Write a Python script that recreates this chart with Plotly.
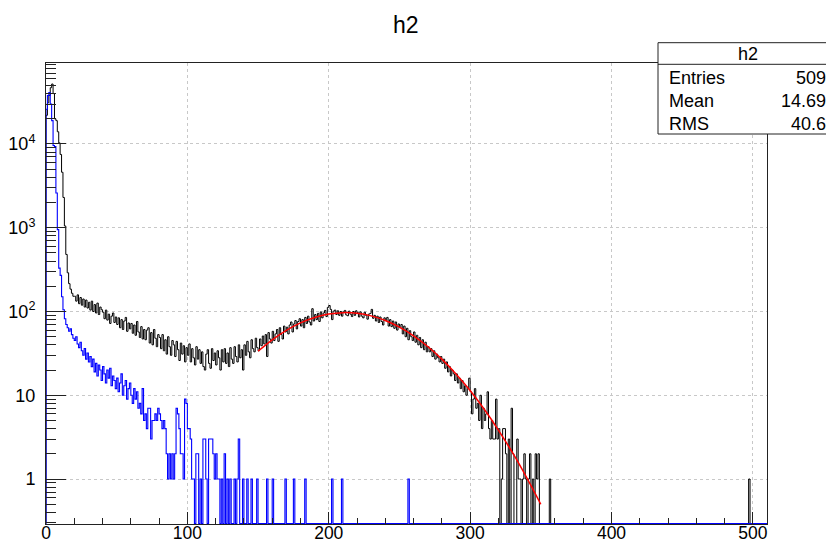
import numpy as np
import plotly.graph_objects as go

# Histogram h2: unit-width bins on [0, 510)
N_BINS = 510

# Black histogram, bins 0..359 (all later bins empty except a few listed separately)
black_dense = [
    22000, 31000, 38000, 47000, 52000, 40000, 20000, 19000, 14000, 10300,
    7500, 4600, 2300, 1050, 480, 290, 215, 185, 165, 152,
    152, 133, 158, 124, 147, 119, 141, 113, 137, 110,
    129, 104, 133, 100, 121, 96, 126, 92, 113, 105,
    98, 82, 104, 79, 93, 72, 88, 96, 74, 86,
    70, 84, 64, 80, 61, 77, 85, 58, 73, 62,
    72, 55, 69, 52, 76, 57, 49, 66, 47, 61,
    46, 60, 64, 42, 56, 40, 61, 48, 38, 53,
    49, 36, 53, 34, 46, 31, 50, 38, 30, 45,
    40, 29, 44, 35, 26, 42, 31, 39, 25, 37,
    30, 41, 25, 36, 28, 23, 38, 27, 35, 24,
    33, 22, 20, 31, 35, 24, 21, 36, 26, 32,
    23, 34, 28, 20, 35, 25, 36, 24, 32, 22,
    37, 27, 24, 38, 29, 25, 40, 28, 35, 20,
    40, 30, 44, 33, 28, 46, 36, 33, 48, 37,
    34, 47, 39, 51, 41, 53, 29, 56, 47, 42,
    58, 45, 54, 61, 44, 64, 53, 47, 67, 57,
    65, 54, 69, 75, 57, 71, 78, 62, 76, 82,
    67, 80, 64, 85, 72, 88, 75, 69, 108, 77,
    92, 80, 95, 76, 99, 84, 96, 103, 87, 112,
    118, 106, 80, 101, 104, 92, 102, 90, 100, 88,
    99, 103, 91, 89, 101, 93, 87, 100, 90, 102,
    97, 86, 99, 88, 84, 98, 90, 81, 93, 95,
    106, 83, 90, 77, 88, 74, 86, 76, 69, 84,
    78, 85, 67, 80, 66, 77, 63, 75, 60, 71,
    64, 70, 54, 67, 50, 63, 46, 59, 50, 45,
    57, 43, 52, 40, 49, 37, 46, 35, 43, 33,
    38, 33, 36, 29, 34, 27, 31, 28, 25, 29,
    24, 27, 21, 25, 19, 22, 17, 20, 18, 15,
    18, 14, 16, 12, 15, 11, 13, 10, 12, 16,
    11, 6, 9, 12, 7, 8, 5, 10, 4, 7,
    5, 6, 11, 4, 3, 5, 3, 3, 9, 3,
    4, 0, 1, 4, 4, 2, 0, 3, 0, 7,
    2, 0, 0, 3, 1, 1, 0, 1, 2, 1,
    0, 1, 2, 0, 1, 0, 2, 1, 2, 0,
    0, 0, 0, 0, 0, 0, 1, 0, 0, 0,
]
black_sparse = {497: 1}

# Blue histogram, bins 0..189, plus isolated single counts further out
blue_dense = [
    26000, 38000, 41000, 30000, 19000, 9600, 9300, 2600, 950, 330,
    270, 150, 105, 82, 70, 64, 58, 62, 53, 48,
    45, 50, 41, 37, 43, 34, 30, 36, 27, 32,
    25, 29, 22, 27, 19, 24, 17, 23, 20, 15,
    22, 18, 14, 20, 16, 21, 13, 17, 15, 12,
    16, 11, 14, 18, 10, 13, 15, 9, 12, 14,
    10, 8, 12, 9, 11, 7, 8, 6, 12, 5,
    6, 4, 7, 7, 3, 5, 5, 6, 5, 7,
    6, 5, 4, 5, 4, 2, 1, 2, 1, 2,
    1, 2, 7, 6, 4, 2, 2, 1, 9, 8,
    4, 4, 3, 1, 1, 0, 2, 2, 0, 1,
    0, 3, 3, 1, 0, 3, 3, 3, 2, 1,
    2, 1, 1, 0, 1, 0, 2, 0, 1, 0,
    1, 0, 0, 1, 0, 1, 3, 0, 0, 1,
    0, 0, 1, 0, 0, 1, 0, 0, 0, 1,
    0, 0, 0, 0, 0, 0, 1, 0, 0, 0,
    1, 0, 0, 0, 0, 0, 0, 0, 0, 1,
    0, 0, 0, 0, 0, 1, 0, 0, 0, 0,
    0, 0, 0, 1, 0, 0, 0, 0, 0, 0,
]
blue_sparse = {202: 1, 209: 1, 256: 1}

# Gaussian fit curve over the bump, sampled every 10 units
fit_x = [150, 160, 170, 180, 190, 200, 210, 220, 230, 240, 250,
         260, 270, 280, 290, 300, 310, 320, 330, 340, 350]
fit_y = [33.5, 45.9, 59.5, 73.1, 84.9, 93.2, 96.9, 95.3, 88.7, 78.1, 65.0,
         51.2, 38.2, 27.0, 18.0, 11.4, 6.8, 3.84, 2.06, 1.04, 0.50]

# Statistics box
stats_title = "h2"
stats_labels = ["Entries", "Mean", "RMS"]
stats_values = ["509", "14.69", "40.6"]

x_major = [0, 100, 200, 300, 400, 500]
y_major = [1, 10, 100, 1000, 10000]
y_major_text = ["1", "10", "10<sup>2</sup>", "10<sup>3</sup>", "10<sup>4</sup>"]

assert len(black_dense) == 360

Y_LOG_MIN, Y_LOG_MAX = -0.537, 4.967
FLOOR = 10 ** (Y_LOG_MIN + 0.004)  # empty bins sit on the bottom of the frame

W, H = 826, 544
ML, MR, MT, MB = 46, 59, 63, 20
PW, PH = W - ML - MR, H - MT - MB
FONT = "Liberation Sans, Arial, Helvetica, sans-serif"


def px(x):
    return (x - ML) / PW


def py(y):
    return (H - MB - y) / PH


def full_counts(dense, sparse):
    c = np.zeros(N_BINS)
    c[:len(dense)] = dense
    for k, v in sparse.items():
        c[k] = v
    return c


def step_xy(counts):
    edges = np.arange(N_BINS + 1)
    y = np.where(counts > 0, counts, FLOOR)
    xs = np.concatenate([[0], edges[:-1], [N_BINS, N_BINS]])
    ys = np.concatenate([[FLOOR], y, [y[-1], FLOOR]])
    return xs, ys


fig = go.Figure()

bx, by = step_xy(full_counts(black_dense, black_sparse))
fig.add_trace(go.Scatter(x=bx, y=by, mode="lines", line_shape="hv",
                         line=dict(color="#000000", width=1.0), showlegend=False))

ux, uy = step_xy(full_counts(blue_dense, blue_sparse))
fig.add_trace(go.Scatter(x=ux, y=uy, mode="lines", line_shape="hv",
                         line=dict(color="#0000ff", width=1.1), showlegend=False))

fig.add_trace(go.Scatter(x=fit_x, y=fit_y, mode="lines", line_shape="spline",
                         line=dict(color="#ff0000", width=1.5), showlegend=False))

minor_y = [m * 10 ** e for e in range(-1, 5) for m in range(2, 10)]
minor_y = [v for v in minor_y if np.log10(v) > Y_LOG_MIN and np.log10(v) < Y_LOG_MAX]

fig.update_layout(
    width=W, height=H,
    margin=dict(l=ML, r=MR, t=MT, b=MB),
    paper_bgcolor="white", plot_bgcolor="white",
    font=dict(family=FONT, size=18, color="black"),
    showlegend=False,
    xaxis=dict(
        range=[0, N_BINS], showline=True, mirror=True, linecolor="#222222", linewidth=1,
        ticks="inside", ticklen=12, tickcolor="#222222", tickvals=x_major,
        showgrid=True, gridcolor="#c8c8c8", griddash="dot", gridwidth=1,
        zeroline=False, automargin=False, tickfont=dict(size=17.5),
        ticklabelstandoff=-7,
        minor=dict(dtick=20, tick0=0, ticks="inside", ticklen=6, tickcolor="#222222",
                   showgrid=False),
    ),
    yaxis=dict(
        type="log", range=[Y_LOG_MIN, Y_LOG_MAX], showline=True, mirror=True,
        linecolor="#222222", linewidth=1,
        ticks="inside", ticklen=20, tickcolor="#222222",
        tickvals=y_major, ticktext=y_major_text,
        showgrid=True, gridcolor="#c8c8c8", griddash="dot", gridwidth=1,
        zeroline=False, automargin=False, tickfont=dict(size=18),
        ticklabelstandoff=6,
        minor=dict(tickvals=minor_y, ticks="inside", ticklen=10, tickcolor="#222222",
                   showgrid=False),
    ),
)

# Title
fig.add_annotation(text="h2", xref="paper", yref="paper", x=px(405.5), y=py(25),
                   xanchor="center", yanchor="middle", showarrow=False,
                   font=dict(size=23, family=FONT))

# Statistics box
box_l, box_r, box_t, box_b, box_sep = 658, 845, 42.7, 134, 64.3
fig.add_shape(type="rect", xref="paper", yref="paper",
              x0=px(box_l), x1=px(box_r), y0=py(box_b), y1=py(box_t),
              line=dict(color="#222222", width=1), fillcolor="white", layer="above")
fig.add_shape(type="line", xref="paper", yref="paper",
              x0=px(box_l), x1=px(box_r), y0=py(box_sep), y1=py(box_sep),
              line=dict(color="#222222", width=1), layer="above")
fig.add_annotation(text=stats_title, xref="paper", yref="paper", x=px(748), y=py(54),
                   xanchor="center", yanchor="middle", showarrow=False,
                   font=dict(size=18, family=FONT))
row_y = [78.5, 101, 123.5]
for lab, val, yy in zip(stats_labels, stats_values, row_y):
    fig.add_annotation(text=lab, xref="paper", yref="paper", x=px(667), y=py(yy),
                       xanchor="left", yanchor="middle", showarrow=False,
                       font=dict(size=18, family=FONT))
    fig.add_annotation(text=val, xref="paper", yref="paper", x=px(828), y=py(yy),
                       xanchor="right", yanchor="middle", showarrow=False,
                       font=dict(size=18, family=FONT))

fig.write_html("out.html")
